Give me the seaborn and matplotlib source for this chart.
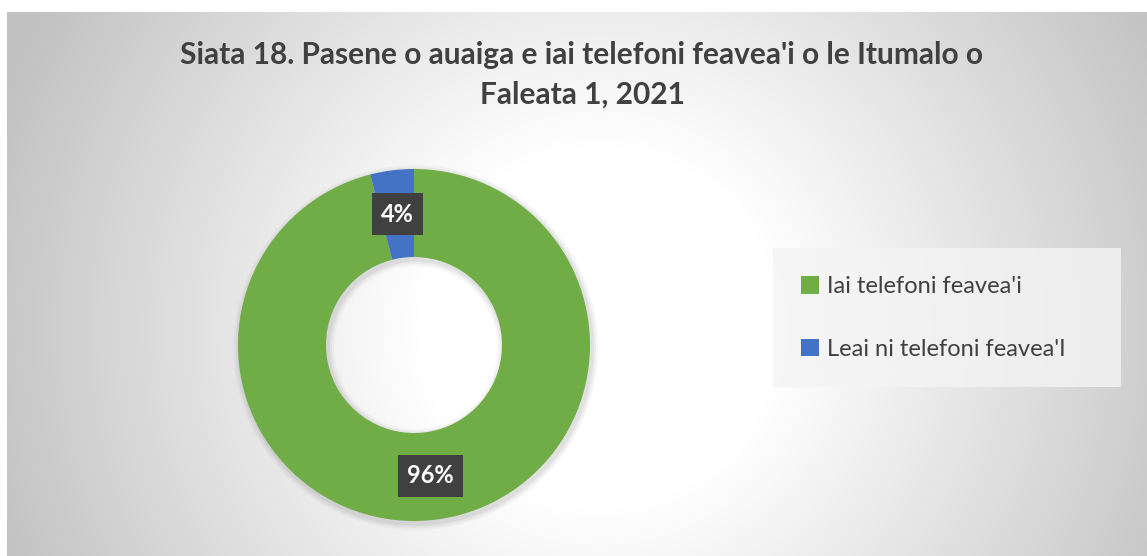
import numpy as np
import matplotlib
matplotlib.use("Agg")
import matplotlib.pyplot as plt
import seaborn as sns
from matplotlib.patches import Patch, Rectangle

sns.set_theme(style="white")
plt.rcParams['font.family'] = ['Lato', 'DejaVu Sans']

# Data
categories = ["Iai telefoni feavea'i", "Leai ni telefoni feavea'I"]
values = [96, 4]
colors = ["#70AD47", "#4472C4"]
title = "Siata 18. Pasene o auaiga e iai telefoni feavea'i o le Itumalo o\nFaleata 1, 2021"

W, H = 1147, 556
fig = plt.figure(figsize=(W / 100, H / 100), dpi=100)
fig.patch.set_facecolor("white")

# Background radial gradient (chart area)
bg_left, bg_top = 7, 12
bg = fig.add_axes([bg_left / W, 0, (W - bg_left) / W, (H - bg_top) / H])
bw, bh = W - bg_left, H - bg_top
yy, xx = np.mgrid[0:bh, 0:bw]
cx, cy = bw * 0.52, bh * 0.58
r = np.sqrt((xx - cx) ** 2 + (yy - cy) ** 2)
t = np.clip((r - 180) / (640 - 180), 0, 1)
val = 1.0 - t * (1.0 - 0.76)
img = np.dstack([val, val, val])
bg.imshow(img, aspect="auto", interpolation="bilinear")
bg.axis("off")

# Title
fig.text(582 / W, 1 - 75 / H, title, ha="center", va="center", fontsize=21.5,
         fontweight="bold", color="#404040", linespacing=1.5)

# Donut
cxp, cyp, R = 414, 345, 176
ax = fig.add_axes([(cxp - R) / W, (H - cyp - R) / H, 2 * R / W, 2 * R / H])
ax.axis("off")

# soft shadow
for k, a in enumerate([0.05, 0.04, 0.03]):
    ax.pie([1], radius=1.0 + 0.012 * (k + 1), colors=["#000000"],
           wedgeprops=dict(width=0.5 + 0.024 * (k + 1), alpha=a, linewidth=0),
           center=(0.01, -0.015))

wedges, _ = ax.pie(values, colors=colors, startangle=90, counterclock=False,
                   radius=1.0, wedgeprops=dict(width=0.5, linewidth=0))
ax.set_xlim(-1, 1)
ax.set_ylim(-1, 1)
ax.set_aspect("auto")

for v, w in zip(values, wedges):
    mid = np.deg2rad((w.theta1 + w.theta2) / 2)
    x, y = 0.75 * np.cos(mid), 0.75 * np.sin(mid)
    ax.text(x, y, f"{v}%", ha="center", va="center", fontsize=17,
            fontweight="bold", color="white", zorder=5,
            bbox=dict(boxstyle="square,pad=0.4", fc="#404040", ec="none"))

# Legend background box
fig.patches.append(Rectangle((773 / W, 1 - 387 / H), (1121 - 773) / W, (387 - 248) / H,
                             transform=fig.transFigure, facecolor="#f4f4f4",
                             alpha=0.8, edgecolor="none", zorder=1))

handles = [Patch(facecolor=c, edgecolor="none") for c in colors]
leg = fig.legend(handles, categories, loc="upper left",
                 bbox_to_anchor=(773 / W, 1 - 248 / H), frameon=False,
                 fontsize=17, handlelength=0.75, handleheight=0.75,
                 handletextpad=0.35, labelspacing=1.75, borderpad=1.2,
                 borderaxespad=0)
for txt in leg.get_texts():
    txt.set_color("#404040")

fig.savefig("out.png", dpi=100)
